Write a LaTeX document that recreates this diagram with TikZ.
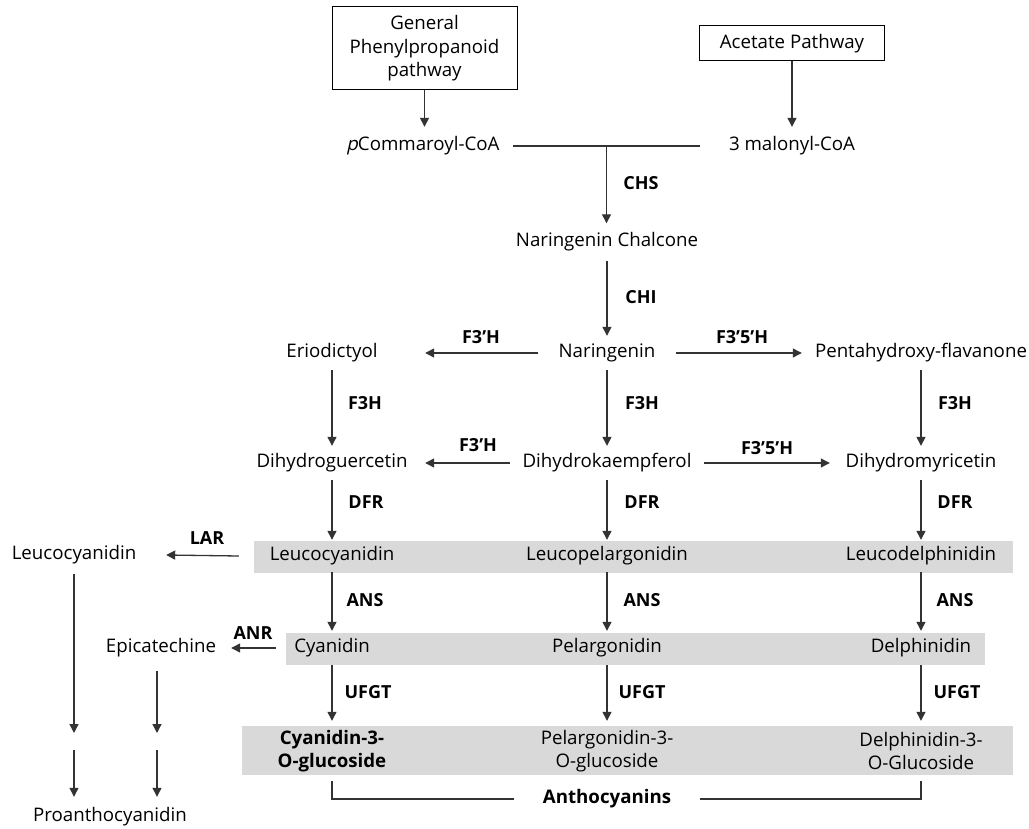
\documentclass[tikz,border=0pt]{standalone}
\usepackage{fontspec}
\setmainfont{Open Sans}
\newfontfamily\slantp[FakeSlant=0.22]{Open Sans}
\usetikzlibrary{arrows.meta,calc}
\definecolor{band}{HTML}{D9D9D9}
\definecolor{ln}{HTML}{333333}
\begin{document}
\begin{tikzpicture}[x=1pt,y=-1pt,
  t/.style={font=\fontsize{18.7}{23}\selectfont, inner sep=0pt, text height=13.5pt, text depth=4.5pt},
  t2/.style={font=\fontsize{18.7}{23}\selectfont, inner sep=0pt, align=center},
  lab/.style={font=\fontsize{18}{22}\selectfont\bfseries, inner sep=0pt},
  box/.style={draw=black, line width=1pt, inner sep=0pt, align=center, font=\fontsize{18.7}{23.5}\selectfont},
  arr/.style={draw=ln, line width=1.3pt, -{Triangle[length=9pt,width=9pt]}},
  ln/.style={draw=ln, line width=1.3pt}]
\useasboundingbox (0,0) rectangle (1029,829);
\fill[white] (0,0) rectangle (1029,829);
% grey bands
\fill[band] (254,541) rectangle (1013,573);
\fill[band] (286,633) rectangle (985,665);
\fill[band] (242,726) rectangle (1013,775);
% source boxes
\node[box, minimum width=185pt, minimum height=83pt] (gp) at (424.5,48.5) {General\\Phenylpropanoid\\pathway};
\node[box, minimum width=185pt, minimum height=35pt] (ap) at (792,43.5) {Acetate Pathway};
% metabolites
\node[t, minimum width=180pt, minimum height=38pt] (pc) at (423,146) {{\slantp p}Commaroyl-CoA};
\node[t, minimum width=184pt, minimum height=38pt] (mc) at (792,146) {3 malonyl-CoA};
\node[t, minimum height=37pt] (nc) at (607,242) {Naringenin Chalcone};
\node[t, minimum width=138pt, minimum height=34pt] (nar) at (607,353) {Naringenin};
\node[t, minimum width=186pt, minimum height=34pt] (erio) at (332,353) {Eriodictyol};
\node[t, minimum width=238pt, minimum height=34pt] (penta) at (921,353) {Pentahydroxy-flavanone};
\node[t, minimum width=186pt, minimum height=34pt] (dq) at (332,463) {Dihydroguercetin};
\node[t, minimum width=194pt, minimum height=34pt] (dk) at (607,463) {Dihydrokaempferol};
\node[t, minimum width=182pt, minimum height=34pt] (dm) at (921,463) {Dihydromyricetin};
\node[t, minimum width=186pt, minimum height=32pt] (lc) at (332,556) {Leucocyanidin};
\node[t, minimum height=32pt] (lp) at (607,556) {Leucopelargonidin};
\node[t, minimum height=32pt] (ld) at (921,556) {Leucodelphinidin};
\node[t, minimum width=112pt, minimum height=34pt] (cy) at (332,648) {Cyanidin};
\node[t, minimum height=34pt] (pe) at (607,648) {Pelargonidin};
\node[t, minimum height=34pt] (de) at (921,648) {Delphinidin};
\node[t2, font=\fontsize{18.7}{23}\selectfont\bfseries, minimum height=60pt] (cg) at (332,751) {Cyanidin-3-\\O-glucoside};
\node[t2, minimum height=60pt] (pg) at (607,751) {Pelargonidin-3-\\O-glucoside};
\node[t2, minimum height=60pt] (dg) at (921,751) {Delphinidin-3-\\O-Glucoside};
\node[t, font=\fontsize{18.7}{23}\selectfont\bfseries, minimum width=185pt] (anth) at (607,799) {Anthocyanins};
\node[t, minimum width=184pt, minimum height=38pt] (lc2) at (74,555) {Leucocyanidin};
\node[t, minimum width=140pt, minimum height=46pt] (ep) at (161,648) {Epicatechine};
\node[t, minimum height=40pt] (pro) at (110,817) {Proanthocyanidin};
% free ends of the proanthocyanidin arrows
\coordinate (a1) at (74,733);
\coordinate (a2) at (74,750);
\coordinate (b1) at (157,733);
\coordinate (b2) at (157,750);
% connectors
\draw[arr] (gp.south) -- (gp.south |- pc.north);
\draw[arr] (ap.south) -- (ap.south |- mc.north);
\draw[ln] (pc.east) -- (mc.west);
\coordinate (j) at ($(pc.east)!0.5!(mc.west)$);
\draw[arr] (j) -- (j |- nc.north);
\draw[arr] (nc) -- (nar);
\draw[arr] (nar) -- (erio);
\draw[arr] (nar) -- (penta);
\draw[arr] (erio) -- (dq);
\draw[arr] (nar) -- (dk);
\draw[arr] (penta) -- (dm);
\draw[arr] (dk) -- (dq);
\draw[arr] (dk) -- (dm);
\draw[arr] (dq) -- (lc);
\draw[arr] (dk) -- (lp);
\draw[arr] (dm) -- (ld);
\draw[arr] (lc) -- (cy);
\draw[arr] (lp) -- (pe);
\draw[arr] (ld) -- (de);
\draw[arr] (cy) -- (cg);
\draw[arr] (pe) -- (pg);
\draw[arr] (de) -- (dg);
\draw[arr] (lc.west) -- (lc2.east);
\draw[arr] (cy.west) -- (ep.east);
\draw[arr] (lc2.south) -- (a1);
\draw[arr] (a2) -- (a2 |- pro.north);
\draw[arr] (ep.south -| b1) -- (b1);
\draw[arr] (b2) -- (b2 |- pro.north);
\draw[ln] (cg.south) |- (anth.west);
\draw[ln] (dg.south) |- (anth.east);
% enzyme labels
\node[lab] (chs) at (641,183) {CHS};
\node[lab] (chi) at (641,297) {CHI};
\node[lab] (f3h1) at (481,337) {F3’H};
\node[lab] (f35h1) at (742,337) {F3’5’H};
\node[lab] (f3a) at (365,403) {F3H};
\node[lab] (f3b) at (642,403) {F3H};
\node[lab] (f3c) at (955,403) {F3H};
\node[lab] (f3h2) at (478,445) {F3’H};
\node[lab] (f35h2) at (767,448) {F3’5’H};
\node[lab] (dfra) at (366,502) {DFR};
\node[lab] (dfrb) at (642,502) {DFR};
\node[lab] (dfrc) at (955,502) {DFR};
\node[lab] (lar) at (207,538) {LAR};
\node[lab] (ansa) at (365,600) {ANS};
\node[lab] (ansb) at (642,600) {ANS};
\node[lab] (ansc) at (955,600) {ANS};
\node[lab] (anr) at (253,633) {ANR};
\node[lab] (ufa) at (368,692) {UFGT};
\node[lab] (ufb) at (642,692) {UFGT};
\node[lab] (ufc) at (957,692) {UFGT};
\end{tikzpicture}
\end{document}
